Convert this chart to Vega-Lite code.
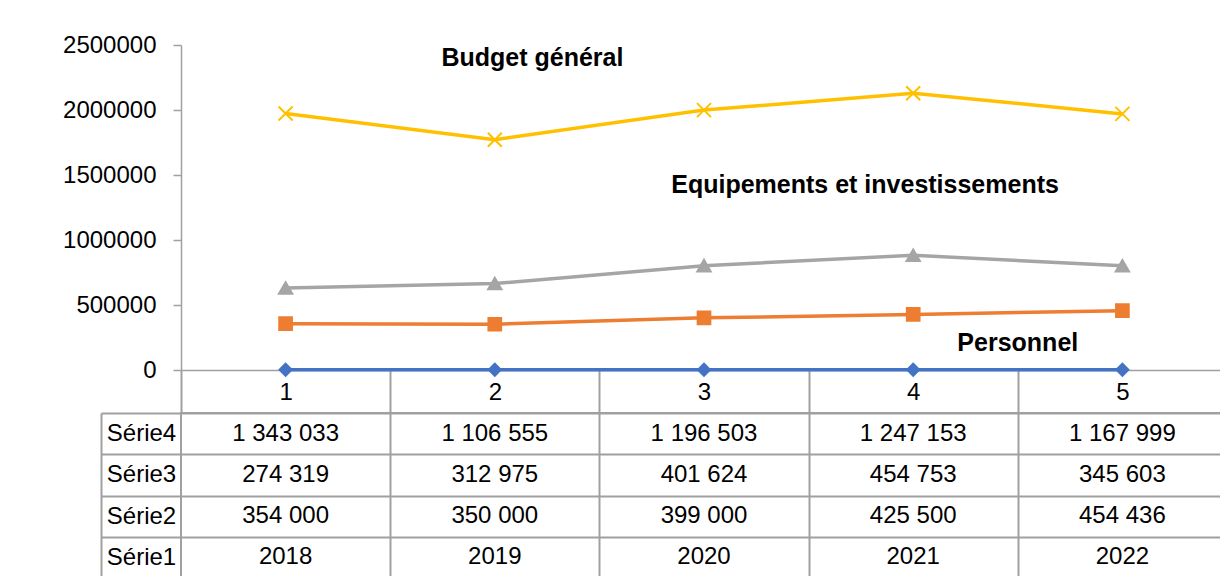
{
  "$schema": "https://vega.github.io/schema/vega-lite/v6.json",
  "autosize": {"type": "pad"},
  "padding": {"left": 62, "top": 33, "right": 0, "bottom": 0},
  "background": "white",
  "spacing": -14,
  "datasets": {
    "series": [
      {"x": 1, "series": "Série1", "value": 2018},
      {"x": 2, "series": "Série1", "value": 2019},
      {"x": 3, "series": "Série1", "value": 2020},
      {"x": 4, "series": "Série1", "value": 2021},
      {"x": 5, "series": "Série1", "value": 2022},
      {"x": 1, "series": "Série2", "value": 354000},
      {"x": 2, "series": "Série2", "value": 350000},
      {"x": 3, "series": "Série2", "value": 399000},
      {"x": 4, "series": "Série2", "value": 425500},
      {"x": 5, "series": "Série2", "value": 454436},
      {"x": 1, "series": "Série3", "value": 274319},
      {"x": 2, "series": "Série3", "value": 312975},
      {"x": 3, "series": "Série3", "value": 401624},
      {"x": 4, "series": "Série3", "value": 454753},
      {"x": 5, "series": "Série3", "value": 345603},
      {"x": 1, "series": "Série4", "value": 1343033},
      {"x": 2, "series": "Série4", "value": 1106555},
      {"x": 3, "series": "Série4", "value": 1196503},
      {"x": 4, "series": "Série4", "value": 1247153},
      {"x": 5, "series": "Série4", "value": 1167999}
    ],
    "labels": [
      {"x": 2.18, "value": 2400000, "label": "Budget général"},
      {"x": 3.77, "value": 1423000, "label": "Equipements et investissements"},
      {"x": 4.5, "value": 208000, "label": "Personnel"}
    ],
    "table": [
      {"row": "Série4", "x": 1, "val": "1 343 033"},
      {"row": "Série4", "x": 2, "val": "1 106 555"},
      {"row": "Série4", "x": 3, "val": "1 196 503"},
      {"row": "Série4", "x": 4, "val": "1 247 153"},
      {"row": "Série4", "x": 5, "val": "1 167 999"},
      {"row": "Série3", "x": 1, "val": "274 319"},
      {"row": "Série3", "x": 2, "val": "312 975"},
      {"row": "Série3", "x": 3, "val": "401 624"},
      {"row": "Série3", "x": 4, "val": "454 753"},
      {"row": "Série3", "x": 5, "val": "345 603"},
      {"row": "Série2", "x": 1, "val": "354 000"},
      {"row": "Série2", "x": 2, "val": "350 000"},
      {"row": "Série2", "x": 3, "val": "399 000"},
      {"row": "Série2", "x": 4, "val": "425 500"},
      {"row": "Série2", "x": 5, "val": "454 436"},
      {"row": "Série1", "x": 1, "val": "2018"},
      {"row": "Série1", "x": 2, "val": "2019"},
      {"row": "Série1", "x": 3, "val": "2020"},
      {"row": "Série1", "x": 4, "val": "2021"},
      {"row": "Série1", "x": 5, "val": "2022"}
    ]
  },
  "vconcat": [
    {
      "width": 1046,
      "height": 325,
      "view": {"stroke": null},
      "layer": [
        {
          "data": {"name": "series"},
          "transform": [
            {"stack": "value", "groupby": ["x"], "sort": [{"field": "series", "order": "ascending"}], "as": ["v0", "v1"]}
          ],
          "layer": [
            {
              "mark": {"type": "line", "strokeWidth": 3.5},
              "encoding": {
                "x": {
                  "field": "x", "type": "quantitative",
                  "scale": {"domain": [0.5, 5.5], "nice": false, "zero": false},
                  "axis": {
                    "title": null,
                    "values": [0.5, 1, 1.5, 2, 2.5, 3, 3.5, 4, 4.5, 5, 5.5],
                    "labelExpr": "datum.value % 1 === 0 ? format(datum.value, 'd') : ''",
                    "grid": false,
                    "tickSize": 42,
                    "tickColor": "#A0A0A0",
                    "tickWidth": 2,
                    "tickOpacity": {"condition": {"test": "datum.value % 1 === 0", "value": 0}, "value": 1},
                    "domainColor": "#A0A0A0",
                    "domainWidth": 1.5,
                    "labelPadding": -20,
                    "labelBaseline": "middle",
                    "labelFont": "Liberation Sans",
                    "labelFontSize": 24,
                    "labelColor": "#000000",
                    "labelFlush": false,
                    "labelOverlap": false
                  }
                },
                "y": {
                  "field": "v1", "type": "quantitative",
                  "scale": {"domain": [0, 2500000], "nice": false},
                  "axis": {
                    "title": null,
                    "values": [0, 500000, 1000000, 1500000, 2000000, 2500000],
                    "format": "d",
                    "grid": false,
                    "domainColor": "#A0A0A0",
                    "domainWidth": 1.5,
                    "tickColor": "#A0A0A0",
                    "tickWidth": 1.5,
                    "tickSize": 8,
                    "labelFont": "Liberation Sans",
                    "labelFontSize": 24,
                    "labelColor": "#000000",
                    "labelPadding": 17
                  }
                },
                "color": {
                  "field": "series", "type": "nominal",
                  "scale": {"domain": ["Série1", "Série2", "Série3", "Série4"], "range": ["#4472C4", "#ED7D31", "#A5A5A5", "#FFC000"]},
                  "legend": null
                }
              }
            },
            {
              "mark": {"type": "point", "filled": true, "opacity": 1, "strokeWidth": 2},
              "encoding": {
                "x": {"field": "x", "type": "quantitative"},
                "y": {"field": "v1", "type": "quantitative"},
                "color": {"field": "series", "type": "nominal", "legend": null},
                "stroke": {
                  "field": "series", "type": "nominal",
                  "scale": {"domain": ["Série1", "Série2", "Série3", "Série4"], "range": ["#4472C4", "#ED7D31", "#A5A5A5", "#FFC000"]},
                  "legend": null
                },
                "shape": {
                  "field": "series", "type": "nominal",
                  "scale": {"domain": ["Série1", "Série2", "Série3", "Série4"], "range": ["diamond", "square", "triangle-up", "M-1,-1L1,1M-1,1L1,-1"]},
                  "legend": null
                },
                "size": {
                  "field": "series", "type": "ordinal",
                  "scale": {"domain": ["Série1", "Série2", "Série3", "Série4"], "range": [144, 196, 190, 240]},
                  "legend": null
                }
              }
            }
          ]
        },
        {
          "data": {"name": "labels"},
          "mark": {"type": "text", "font": "Liberation Sans", "fontSize": 25, "fontWeight": "bold", "color": "#000000", "align": "center", "baseline": "middle"},
          "encoding": {
            "x": {"field": "x", "type": "quantitative"},
            "y": {"field": "value", "type": "quantitative"},
            "text": {"field": "label"}
          }
        }
      ]
    },
    {
      "width": 1046,
      "height": 165,
      "data": {"name": "table"},
      "view": {"stroke": "#A0A0A0", "strokeWidth": 2},
      "mark": {"type": "text", "font": "Liberation Sans", "fontSize": 24, "color": "#000000", "align": "center", "baseline": "middle"},
      "encoding": {
        "x": {
          "field": "x", "type": "quantitative",
          "scale": {"domain": [0.5, 5.5], "nice": false, "zero": false},
          "axis": {"orient": "bottom", "title": null, "values": [1.5, 2.5, 3.5, 4.5], "grid": true, "gridColor": "#A0A0A0", "gridWidth": 2, "gridOpacity": 1, "labels": false, "ticks": false, "domain": false}
        },
        "y": {
          "field": "row", "type": "nominal",
          "sort": ["Série4", "Série3", "Série2", "Série1"],
          "scale": {"type": "band", "paddingInner": 0, "paddingOuter": 0},
          "axis": {
            "title": null,
            "offset": 80,
            "tickBand": "extent",
            "tickSize": -80,
            "tickColor": "#A0A0A0",
            "tickWidth": 2,
            "domainColor": "#A0A0A0",
            "domainWidth": 2,
            "grid": true,
            "gridColor": "#A0A0A0",
            "gridWidth": 2,
            "gridOpacity": 1,
            "labelAlign": "center",
            "labelPadding": 40,
            "labelFont": "Liberation Sans",
            "labelFontSize": 24,
            "labelColor": "#000000"
          }
        },
        "text": {"field": "val"}
      }
    }
  ]
}
